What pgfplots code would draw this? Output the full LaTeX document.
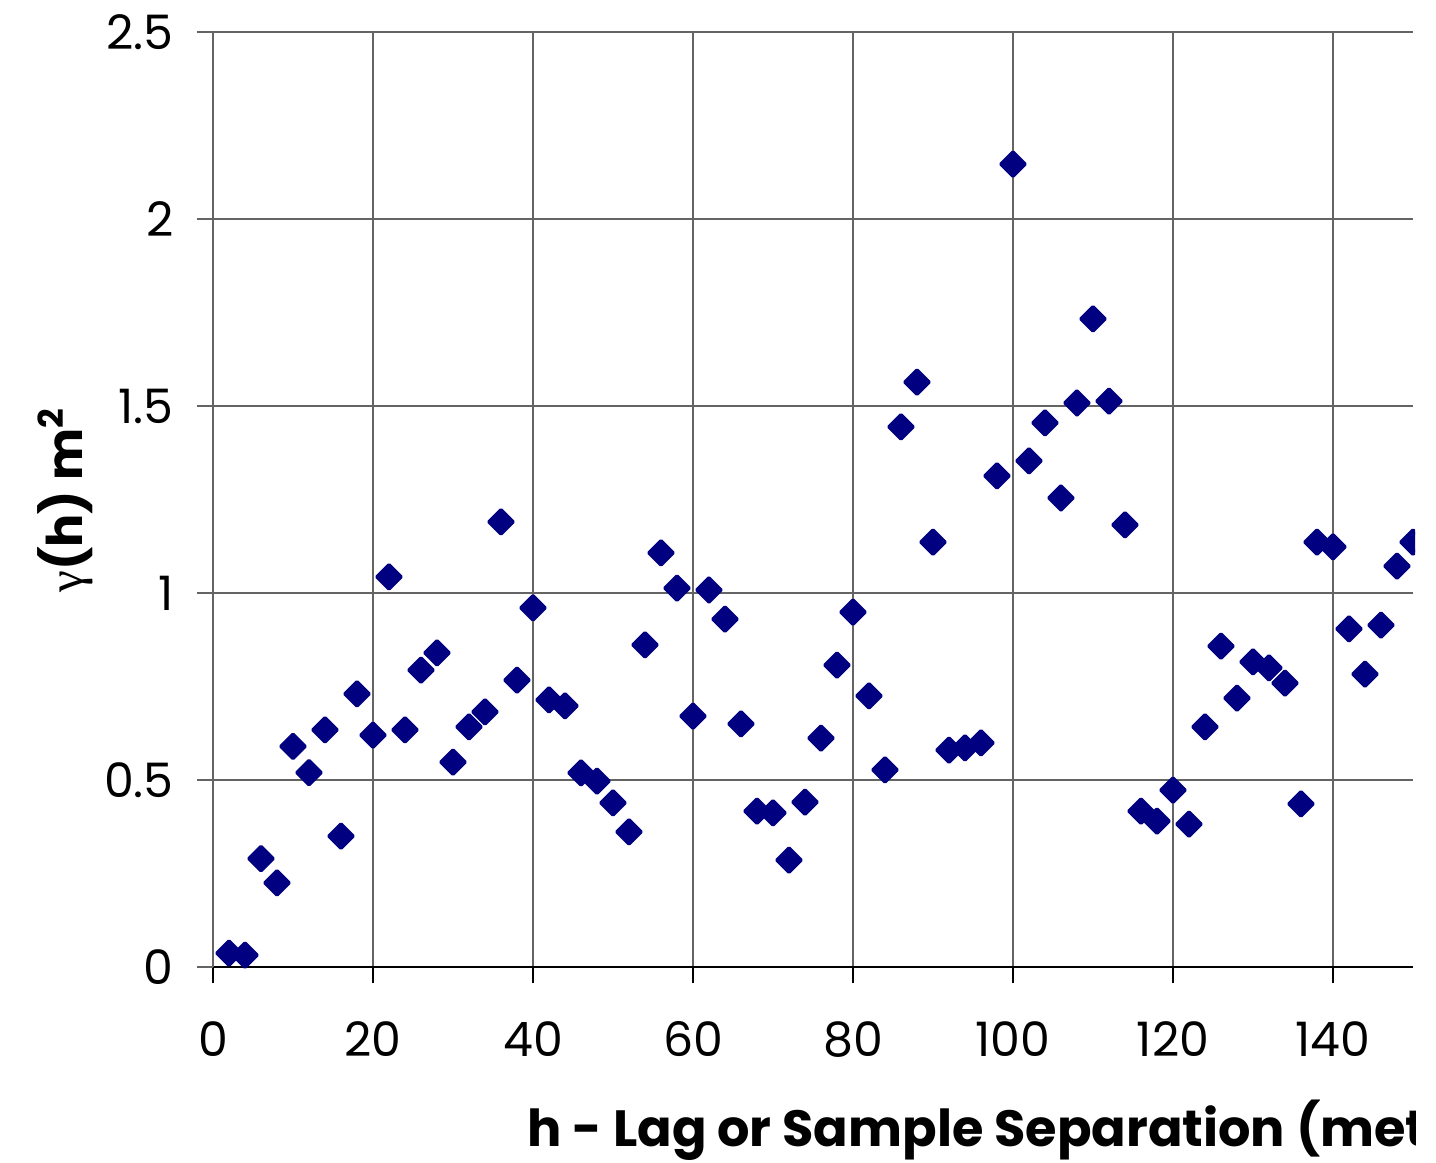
\documentclass[border=0pt]{standalone}
\usepackage{fontspec}
\setmainfont{Poppins}
\newfontfamily\greekfont{Liberation Serif}
\usepackage{pgfplots}
\pgfplotsset{compat=1.18}

\definecolor{navymark}{RGB}{0,0,128}
\definecolor{gridgray}{RGB}{100,100,100}

% experimental semivariogram: lag h (m) against gamma(h)
\pgfplotstableread{
h gamma
2 0.037
4 0.032
6 0.290
8 0.225
10 0.590
12 0.520
14 0.634
16 0.350
18 0.730
20 0.620
22 1.043
24 0.634
26 0.794
28 0.840
30 0.548
32 0.642
34 0.682
36 1.190
38 0.767
40 0.960
42 0.714
44 0.698
46 0.519
48 0.497
50 0.439
52 0.361
54 0.861
56 1.107
58 1.013
60 0.671
62 1.008
64 0.930
66 0.650
68 0.417
70 0.412
72 0.286
74 0.441
76 0.612
78 0.807
80 0.949
82 0.725
84 0.527
86 1.444
88 1.564
90 1.136
92 0.580
94 0.586
96 0.599
98 1.313
100 2.147
102 1.353
104 1.455
106 1.254
108 1.508
110 1.733
112 1.513
114 1.182
116 0.417
118 0.390
120 0.473
122 0.382
124 0.642
126 0.858
128 0.719
130 0.816
132 0.800
134 0.759
136 0.436
138 1.136
140 1.123
142 0.904
144 0.783
146 0.914
148 1.072
150 1.136
}\variogram

\begin{document}
\begin{tikzpicture}
\path[use as bounding box] (0,0) rectangle (143.6mm,116.3mm);
\clip (0,0) rectangle (141.5mm,116.3mm);
\begin{axis}[
  at={(21.3mm,19.6mm)}, anchor=south west,
  scale only axis, width=120mm, height=93.5mm,
  xmin=0, xmax=150, ymin=0, ymax=2.5,
  xtick={0,20,...,140}, ytick={0,0.5,...,2.5},
  axis x line*=bottom, axis y line*=left,
  x axis line style={black, line width=0.2mm},
  y axis line style={gridgray, line width=0.2mm},
  tick align=outside, major tick length=1.6mm,
  tick style={gridgray, line width=0.2mm},
  xtick style={black},
  grid=major,
  grid style={gridgray, line width=0.2mm},
  /pgf/number format/assume math mode=true,
  /pgf/number format/1000 sep={},
  ticklabel style={font=\fontsize{13.5}{13.5}\selectfont},
  yticklabel style={xshift=-1.1mm},
  xticklabel style={yshift=-2.6mm},
  xlabel={h - Lag or Sample Separation (meters)},
  xlabel style={at={(axis description cs:0,0)}, anchor=base west,
    inner sep=0pt, xshift=31.4mm, yshift=-18mm,
    font=\fontsize{14.5}{14.5}\selectfont\bfseries},
  ylabel={{\greekfont\mdseries γ}(h) m\textsuperscript{2}},
  ylabel style={at={(axis description cs:-0.1233,0.5)}, anchor=center,
    rotate=0, font=\fontsize{14}{14}\selectfont\bfseries},
  clip=false,
]
\addplot[only marks, mark=square*, mark size=0.85mm,
  mark options={rotate=45, fill=navymark, draw=navymark,
    line width=0.35mm, line join=round}]
  table[x=h, y=gamma] {\variogram};
\end{axis}
\end{tikzpicture}
\end{document}
